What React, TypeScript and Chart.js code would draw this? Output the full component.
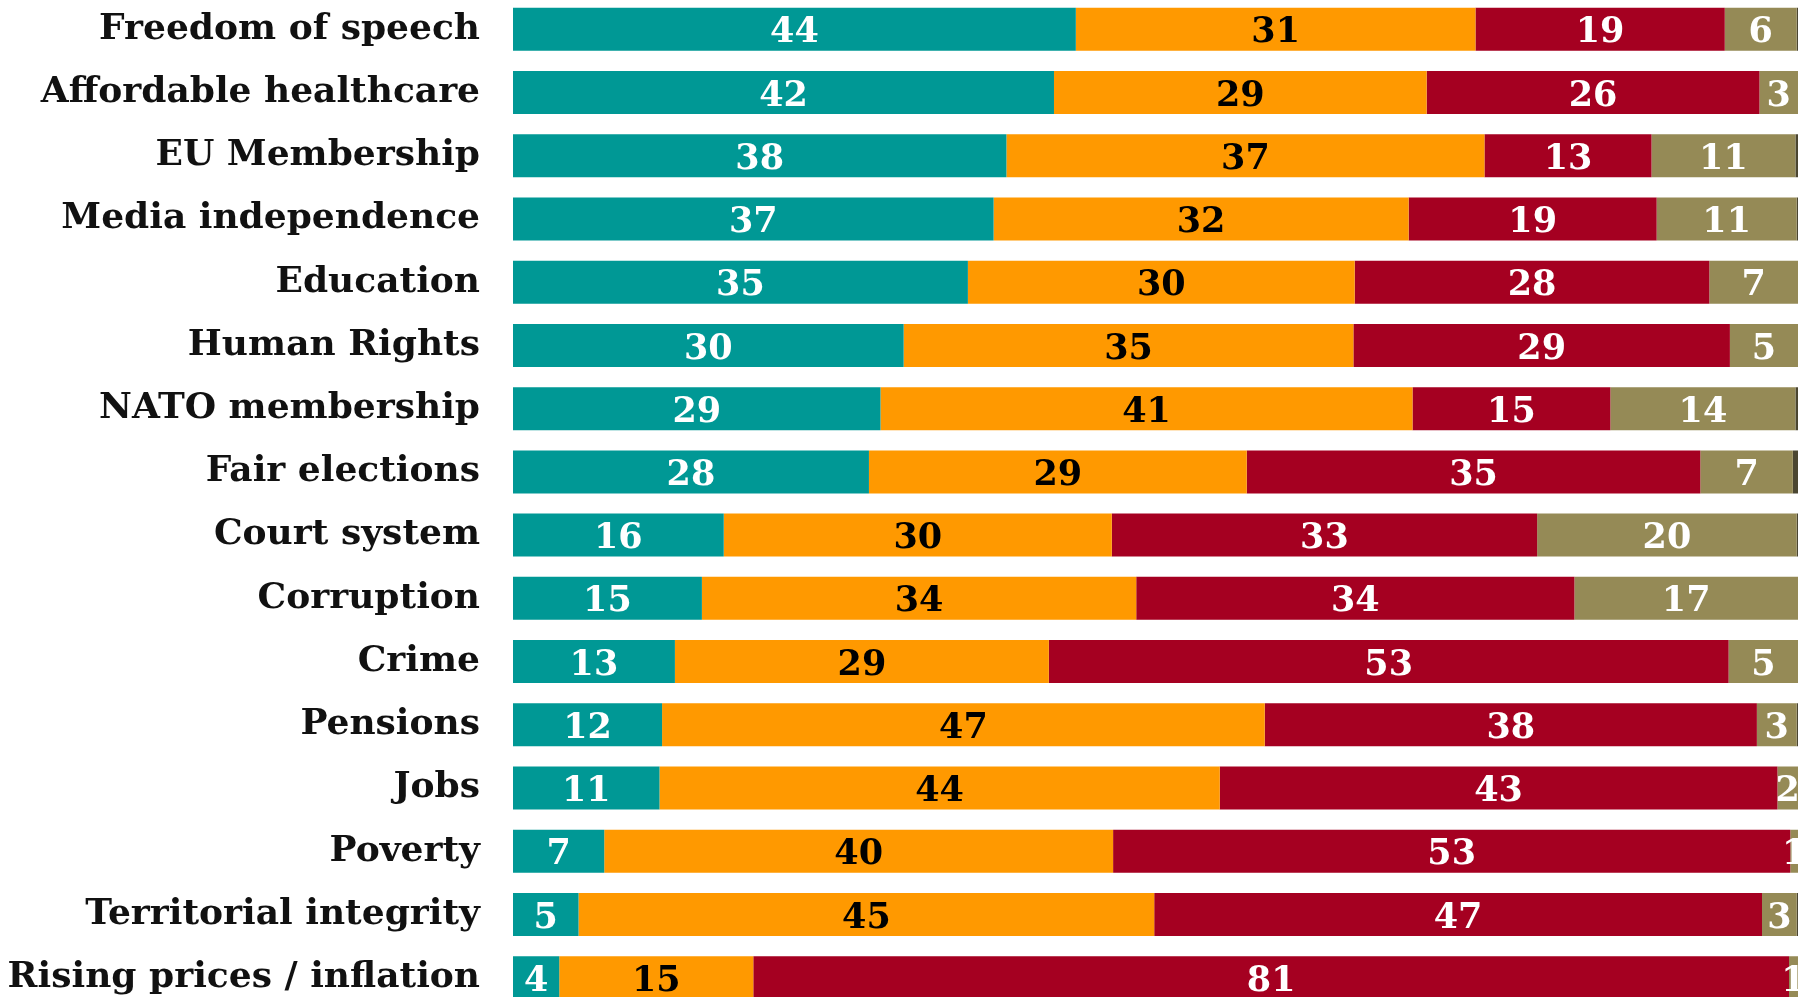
import React, { useEffect, useRef } from "react";
import { Chart, registerables } from "chart.js";

Chart.register(...registerables);

const categories = [
  "Freedom of speech",
  "Affordable healthcare",
  "EU Membership",
  "Media independence",
  "Education",
  "Human Rights",
  "NATO membership",
  "Fair elections",
  "Court system",
  "Corruption",
  "Crime",
  "Pensions",
  "Jobs",
  "Poverty",
  "Territorial integrity",
  "Rising prices / inflation",
];

const seriesA = [43.8, 42.1, 38.4, 37.4, 35.4, 30.4, 28.6, 27.7, 16.4, 14.7, 12.6, 11.6, 11.4, 7.1, 5.1, 3.6];
const seriesB = [31.1, 29.0, 37.2, 32.3, 30.1, 35.0, 41.4, 29.4, 30.2, 33.8, 29.1, 46.9, 43.6, 39.6, 44.8, 15.1];
const seriesC = [19.4, 25.9, 13.0, 19.3, 27.6, 29.3, 15.4, 35.3, 33.1, 34.1, 52.9, 38.3, 43.4, 52.7, 47.3, 80.6];
const seriesD = [5.6, 3.0, 11.2, 10.9, 6.9, 5.3, 14.4, 7.2, 20.2, 17.4, 5.4, 3.1, 1.6, 0.6, 2.7, 0.7];
const seriesE = [0.1, 0, 0.2, 0.1, 0, 0, 0.2, 0.4, 0.1, 0, 0, 0.1, 0, 0, 0.1, 0];

const colors = ["#009895", "#FF9900", "#A50021", "#958A56", "#4B4631"];
const labelColors = ["#ffffff", "#000000", "#ffffff", "#ffffff", null];

const FONT = "'DejaVu Serif', serif";
const TICK_SIZE = 36;

const valueLabels = {
  id: "valueLabels",
  afterDatasetsDraw(chart: any) {
    const ctx = chart.ctx;
    ctx.save();
    ctx.font = `bold 35px ${FONT}`;
    ctx.textAlign = "center";
    ctx.textBaseline = "middle";
    chart.data.datasets.forEach((ds: any, i: number) => {
      const color = labelColors[i];
      if (!color) return;
      const meta = chart.getDatasetMeta(i);
      meta.data.forEach((el: any, j: number) => {
        const v = ds.data[j];
        if (!v) return;
        const cx = (el.x + el.base) / 2;
        ctx.fillStyle = color;
        ctx.fillText(String(Math.round(v)), cx, el.y + 4);
      });
    });
    ctx.restore();
  },
};

export default function App() {
  const ref = useRef<HTMLCanvasElement | null>(null);
  useEffect(() => {
    document.body.style.margin = "0";
    const series = [seriesA, seriesB, seriesC, seriesD, seriesE];
    const names = ["A", "B", "C", "D", "E"];
    const chart = new Chart(ref.current!, {
      type: "bar",
      data: {
        labels: categories,
        datasets: series.map((d, i) => ({
          label: names[i],
          data: d,
          backgroundColor: colors[i],
          borderWidth: 0,
          barPercentage: 0.68,
          categoryPercentage: 1,
        })),
      },
      options: {
        indexAxis: "y",
        responsive: false,
        animation: false,
        layout: { padding: 0 },
        plugins: { legend: { display: false }, tooltip: { enabled: false } },
        scales: {
          x: {
            stacked: true,
            min: 0,
            max: 100,
            display: false,
          },
          y: {
            stacked: true,
            grid: { display: false, drawTicks: true, tickLength: 33 },
            border: { display: false },
            ticks: {
              padding: 0,
              color: "#111",
              font: { family: FONT, size: TICK_SIZE, weight: "bold", lineHeight: 1.2 },
            },
            afterFit(scale: any) {
              scale.width = 513;
            },
          },
        },
      },
      plugins: [valueLabels],
    });
    return () => chart.destroy();
  }, []);
  return (
    <canvas
      ref={ref}
      width={1798}
      height={1055}
      style={{ position: "fixed", left: 0, top: -24, display: "block" }}
    />
  );
}
